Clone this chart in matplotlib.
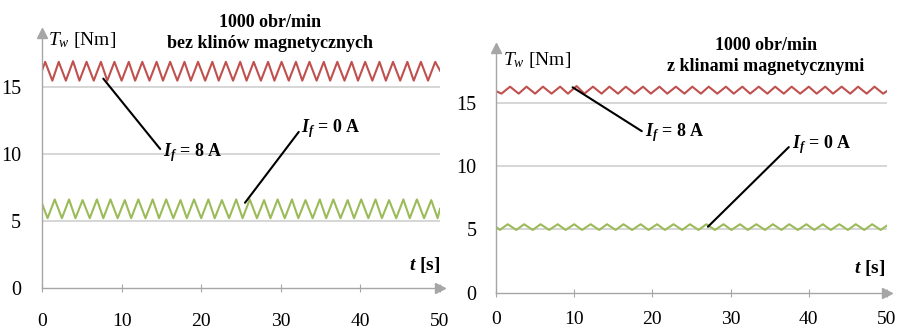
import matplotlib
matplotlib.use("Agg")
import matplotlib.pyplot as plt

plt.rcParams['font.family'] = ['Liberation Serif', 'DejaVu Serif']
plt.rcParams['mathtext.fontset'] = 'custom'
plt.rcParams['mathtext.rm'] = 'Liberation Serif'
plt.rcParams['mathtext.it'] = 'Liberation Serif:italic'
plt.rcParams['mathtext.bf'] = 'Liberation Serif:bold'
plt.rcParams['mathtext.bfit'] = 'Liberation Serif:bold:italic'

# ---------------- data ----------------
x_ticks = [0, 10, 20, 30, 40, 50]
y_ticks = [0, 5, 10, 15]

titles = ["1000 obr/min\nbez klinów magnetycznych",
          "1000 obr/min\nz klinami magnetycznymi"]

# left panel, I_f = 8 A (alternating extremes)
left_8A_t = [0.0, 0.4, 1.3, 2.1, 3.0, 3.9, 4.7, 5.6, 6.5, 7.4, 8.2, 9.1, 10.0,
             10.9, 11.7, 12.6, 13.5, 14.4, 15.2, 16.1, 17.0, 17.9, 18.7, 19.6,
             20.5, 21.4, 22.2, 23.1, 24.0, 24.9, 25.7, 26.6, 27.5, 28.4, 29.2,
             30.1, 31.0, 31.9, 32.7, 33.6, 34.5, 35.4, 36.2, 37.1, 38.0, 38.9,
             39.7, 40.6, 41.5, 42.4, 43.2, 44.1, 45.0, 45.9, 46.7, 47.6, 48.5,
             49.4, 50.0]
left_8A_v = [16.2, 16.85, 15.45, 16.85, 15.45, 16.9, 15.45, 16.85, 15.45, 16.85,
             15.45, 16.85, 15.45, 16.85, 15.45, 16.85, 15.45, 16.85, 15.45, 16.85,
             15.45, 16.85, 15.45, 16.85, 15.45, 16.85, 15.45, 16.85, 15.45, 16.85,
             15.45, 16.85, 15.45, 16.85, 15.45, 16.85, 15.45, 16.85, 15.45, 16.85,
             15.45, 16.85, 15.45, 16.85, 15.45, 16.85, 15.45, 16.85, 15.45, 16.85,
             15.45, 16.85, 15.45, 16.85, 15.45, 16.85, 15.45, 16.85, 16.2]

# left panel, I_f = 0 A
left_0A_t = [0.0, 0.7, 1.6, 2.5, 3.4, 4.2, 5.1, 6.0, 6.9, 7.7, 8.6, 9.5, 10.4,
             11.2, 12.1, 13.0, 13.9, 14.7, 15.6, 16.5, 17.4, 18.2, 19.1, 20.0,
             20.9, 21.7, 22.6, 23.5, 24.4, 25.2, 26.1, 27.0, 27.9, 28.7, 29.6,
             30.5, 31.4, 32.2, 33.1, 34.0, 34.9, 35.7, 36.6, 37.5, 38.4, 39.2,
             40.1, 41.0, 41.9, 42.7, 43.6, 44.5, 45.4, 46.2, 47.1, 48.0, 48.9,
             49.7, 50.0]
left_0A_v = [6.3, 5.2, 6.6, 5.2, 6.6, 5.2, 6.55, 5.2, 6.6, 5.2, 6.6, 5.2, 6.55,
             5.2, 6.6, 5.2, 6.6, 5.2, 6.6, 5.2, 6.55, 5.2, 6.6, 5.2, 6.6, 5.2,
             6.55, 5.2, 6.6, 5.2, 6.6, 5.2, 6.55, 5.2, 6.6, 5.2, 6.6, 5.2, 6.55,
             5.2, 6.6, 5.2, 6.6, 5.2, 6.55, 5.2, 6.6, 5.2, 6.6, 5.2, 6.55, 5.2,
             6.6, 5.2, 6.6, 5.2, 6.55, 5.2, 5.9]

# right panel, I_f = 8 A
right_8A_t = [0.0, 0.7, 1.8, 2.9, 3.9, 5.0, 6.0, 7.1, 8.2, 9.2, 10.3, 11.3, 12.4,
              13.5, 14.5, 15.6, 16.6, 17.7, 18.8, 19.8, 20.9, 21.9, 23.0, 24.1,
              25.1, 26.2, 27.2, 28.3, 29.4, 30.4, 31.5, 32.5, 33.6, 34.7, 35.7,
              36.8, 37.8, 38.9, 40.0, 41.0, 42.1, 43.1, 44.2, 45.3, 46.3, 47.4,
              48.4, 49.5, 50.0]
right_8A_v = [15.9, 15.7, 16.25, 15.7, 16.25, 15.7, 16.25, 15.7, 16.25, 15.7,
              16.3, 15.7, 16.25, 15.7, 16.25, 15.7, 16.25, 15.7, 16.25, 15.7,
              16.25, 15.7, 16.25, 15.7, 16.25, 15.7, 16.25, 15.7, 16.25, 15.7,
              16.25, 15.7, 16.25, 15.7, 16.25, 15.7, 16.25, 15.7, 16.25, 15.7,
              16.25, 15.7, 16.25, 15.7, 16.25, 15.7, 16.25, 15.7, 15.9]

# right panel, I_f = 0 A
right_0A_t = [0.0, 0.5, 1.5, 2.6, 3.6, 4.7, 5.7, 6.8, 7.9, 8.9, 10.0, 11.0, 12.1,
              13.2, 14.2, 15.3, 16.3, 17.4, 18.5, 19.5, 20.6, 21.6, 22.7, 23.8,
              24.8, 25.9, 26.9, 28.0, 29.1, 30.1, 31.2, 32.2, 33.3, 34.4, 35.4,
              36.5, 37.5, 38.6, 39.7, 40.7, 41.8, 42.8, 43.9, 45.0, 46.0, 47.1,
              48.1, 49.2, 50.0]
right_0A_v = [5.2, 4.95, 5.4, 4.95, 5.4, 4.95, 5.4, 4.95, 5.4, 4.95, 5.4, 4.95,
              5.4, 4.95, 5.4, 4.95, 5.4, 4.95, 5.4, 4.95, 5.4, 4.95, 5.4, 4.95,
              5.4, 4.95, 5.4, 4.95, 5.4, 4.95, 5.4, 4.95, 5.4, 4.95, 5.4, 4.95,
              5.4, 4.95, 5.4, 4.95, 5.4, 4.95, 5.4, 4.95, 5.4, 4.95, 5.4, 4.95, 5.3]

RED = '#c0504d'
GREEN = '#9bbb59'
AXC = '#a6a6a6'
GRID = '#cfcfcf'

fig = plt.figure(figsize=(9.07, 3.34), dpi=100)
W, H = 907.0, 334.0

def make_axes(x0, x1, y0, ytop):
    return fig.add_axes([x0 / W, 1 - y0 / H, (x1 - x0) / W, (y0 - ytop) / H])

axL = make_axes(42, 440, 288, 33)
axR = make_axes(496, 887, 292.7, 48)

def style(ax, ymax, xpad, ypad):
    ax.set_xlim(0, 50)
    ax.set_ylim(0, ymax)
    for s in ['top', 'right']:
        ax.spines[s].set_visible(False)
    for s in ['left', 'bottom']:
        ax.spines[s].set_color(AXC)
        ax.spines[s].set_linewidth(1.0)
    ax.set_xticks(x_ticks)
    ax.set_yticks(y_ticks)
    ax.tick_params(axis='x', direction='inout', length=6, color=AXC,
                   pad=xpad, labelsize=14)
    ax.tick_params(axis='y', length=0, pad=ypad, labelsize=14.5)
    for y in y_ticks[1:]:
        ax.axhline(y, color=GRID, lw=1.2, zorder=0)
    # arrowheads
    ax.plot([1.0], [0], marker='>', color=AXC, ms=7, transform=ax.transAxes,
            clip_on=False)
    ax.plot([0], [1.0], marker='^', color=AXC, ms=7, transform=ax.transAxes,
            clip_on=False)

style(axL, 19.0, 15, 15)
style(axR, 19.3, 10, 14)

axL.plot(left_8A_t, left_8A_v, color=RED, lw=1.5, solid_joinstyle='round')
axL.plot(left_0A_t, left_0A_v, color=GREEN, lw=1.5, solid_joinstyle='round')
axR.plot(right_8A_t, right_8A_v, color=RED, lw=1.5, solid_joinstyle='round')
axR.plot(right_0A_t, right_0A_v, color=GREEN, lw=1.5, solid_joinstyle='round')

lab8 = r'$\mathbfit{I}_{\mathbfit{f}}$' + ' = 8 A'
lab0 = r'$\mathbfit{I}_{\mathbfit{f}}$' + ' = 0 A'

def annot(ax, text, xy, xytext):
    ax.annotate(text, xy=xy, xytext=xytext, fontsize=13, fontweight='bold',
                ha='left', va='center',
                arrowprops=dict(arrowstyle='-', color='black', lw=1.5,
                                shrinkA=0, shrinkB=0,
                                relpos=(0.0, 0.5)))

annot(axL, lab8, (7.7, 15.6), (15.2, 10.1))
annot(axL, lab0, (25.5, 6.35), (32.6, 11.9))
annot(axR, lab8, (9.8, 16.2), (19.0, 12.6))
annot(axR, lab0, (27.1, 5.2), (37.8, 11.7))

# titles
fig.text(270 / W, 1 - 33 / H, titles[0], ha='center', va='center',
         fontsize=13, fontweight='bold', linespacing=1.25)
fig.text(766 / W, 1 - 56 / H, titles[1], ha='center', va='center',
         fontsize=13, fontweight='bold', linespacing=1.25)

# axis labels
ylab = r'$\mathit{T}_{\mathit{w}}$' + ' [Nm]'
fig.text(48 / W, 1 - 40 / H, ylab, ha='left', va='center', fontsize=14)
fig.text(503 / W, 1 - 60 / H, ylab, ha='left', va='center', fontsize=14)
tlab = r'$\mathbfit{t}$' + ' [s]'
fig.text(440 / W, 1 - 265 / H, tlab, ha='right', va='center', fontsize=14,
         fontweight='bold')
fig.text(885 / W, 1 - 268 / H, tlab, ha='right', va='center', fontsize=14,
         fontweight='bold')

fig.savefig('out.png', dpi=100)
